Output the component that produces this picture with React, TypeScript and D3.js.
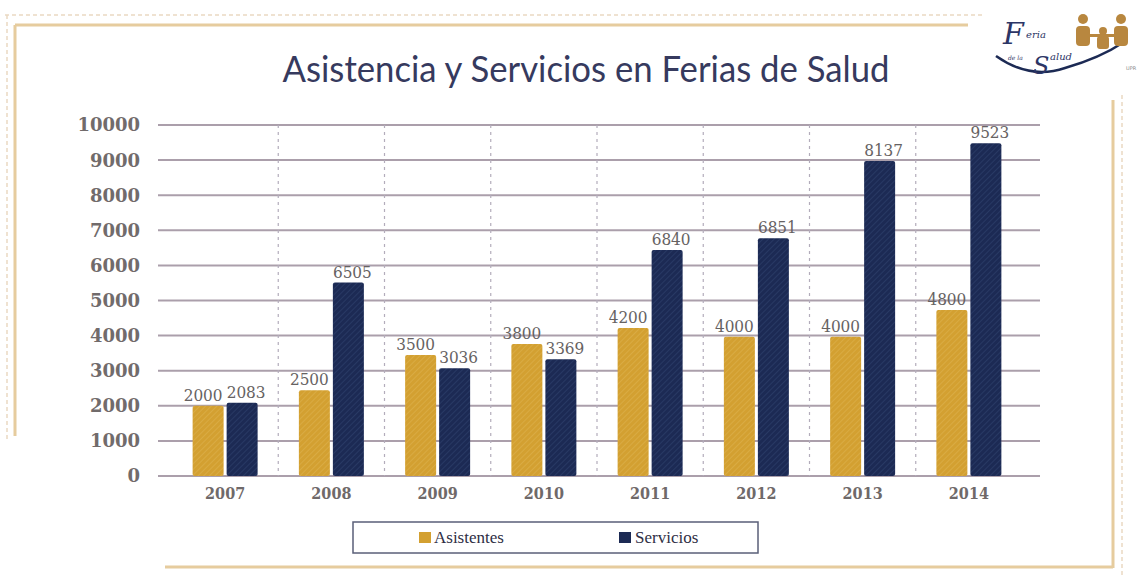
import * as d3 from "d3";

const years = ["2007", "2008", "2009", "2010", "2011", "2012", "2013", "2014"];
const seriesNames = ["Asistentes", "Servicios"];
// bar heights as drawn in the picture
const asistentes = [2000, 2440, 3450, 3760, 4220, 3970, 3970, 4730];
const servicios = [2090, 5510, 3070, 3325, 6440, 6770, 8975, 9480];
// value labels as printed above the bars
const asistentesLabels = ["2000", "2500", "3500", "3800", "4200", "4000", "4000", "4800"];
const serviciosLabels = ["2083", "6505", "3036", "3369", "6840", "6851", "8137", "9523"];
const yTicks = [0, 1000, 2000, 3000, 4000, 5000, 6000, 7000, 8000, 9000, 10000];

const W = 1140;
const H = 579;
const GOLD = "#d3a031";
const NAVY = "#1c2a54";

const App = () => {
    const x = d3.scaleBand().domain(years).range([172, 1022]).padding(0);
    const x1 = d3
        .scaleBand()
        .domain(seriesNames)
        .range([-32.5, 32.5])
        .paddingInner(3 / 34);
    const y = d3.scaleLinear().domain([0, 10000]).range([476, 125]);

    const series = [
        { name: "Asistentes", values: asistentes, labels: asistentesLabels, fill: "url(#hatchGold)", dx: -5 },
        { name: "Servicios", values: servicios, labels: serviciosLabels, fill: "url(#hatchNavy)", dx: 4 },
    ];

    const labelFont = "'DejaVu Serif Condensed', 'DejaVu Serif', serif";
    const logoFont = "'DejaVu Serif', serif";

    return (
        <svg
            width={W}
            height={H}
            style={{ position: "absolute", left: 0, top: 0, background: "#fff" }}
        >
            <defs>
                <pattern id="hatchGold" width="4" height="4" patternUnits="userSpaceOnUse" patternTransform="rotate(-45)">
                    <rect width="4" height="4" fill={GOLD} />
                    <line x1="0" y1="0" x2="4" y2="0" stroke="#dcb04a" strokeWidth="1.4" />
                </pattern>
                <pattern id="hatchNavy" width="4" height="4" patternUnits="userSpaceOnUse" patternTransform="rotate(-45)">
                    <rect width="4" height="4" fill={NAVY} />
                    <line x1="0" y1="0" x2="4" y2="0" stroke="#2d3f6b" strokeWidth="1.4" />
                </pattern>
            </defs>

            {/* decorative frame */}
            <g fill="none">
                <line x1={5} y1={15} x2={985} y2={15} stroke="#ead9c2" strokeWidth={1.5} strokeDasharray="4 3" />
                <line x1={7} y1={15} x2={7} y2={440} stroke="#ead9c2" strokeWidth={1.5} strokeDasharray="4 3" />
                <line x1={15} y1={25} x2={968} y2={25} stroke="#e6cc9e" strokeWidth={3} />
                <line x1={15} y1={25} x2={15} y2={436} stroke="#e6cc9e" strokeWidth={3} />
                <line x1={1113} y1={100} x2={1113} y2={568} stroke="#e6cc9e" strokeWidth={3} />
                <line x1={1122} y1={95} x2={1122} y2={576} stroke="#ead9c2" strokeWidth={1.5} strokeDasharray="4 3" />
                <line x1={165} y1={567} x2={1113} y2={567} stroke="#e6cc9e" strokeWidth={3} />
            </g>

            {/* logo */}
            <g fill="#2c3566" fontFamily={logoFont} fontStyle="italic">
                <path d="M996,56 Q1030,80 1065,68 Q1100,58 1124,42" fill="none" stroke={NAVY} strokeWidth={2.5} />
                <text x={1003} y={44} fontSize={30}>F</text>
                <text x={1026} y={38} fontSize={10}>eria</text>
                <text x={1008} y={60} fontSize={6}>de la</text>
                <text x={1033} y={74} fontSize={24}>S</text>
                <text x={1050} y={60} fontSize={10}>alud</text>
                <g fill="#b8873f">
                    <circle cx={1083} cy={19} r={5} />
                    <rect x={1076} y={26} width={14} height={20} rx={4} />
                    <circle cx={1103} cy={31} r={4} />
                    <rect x={1097} y={36} width={12} height={13} rx={3} />
                    <circle cx={1121} cy={19} r={5} />
                    <rect x={1114} y={26} width={14} height={20} rx={4} />
                    <rect x={1088} y={34} width={28} height={3} />
                </g>
                <text x={1126} y={70} fontFamily="'DejaVu Sans', sans-serif" fontStyle="normal" fontSize={5} fill="#888">UPR</text>
            </g>

            {/* title */}
            <text
                x={586}
                y={82}
                textAnchor="middle"
                fontFamily="Lato, 'Open Sans', sans-serif"
                fontSize={36}
                fill="#363a5e"
                textLength={607}
                lengthAdjust="spacingAndGlyphs"
            >
                Asistencia y Servicios en Ferias de Salud
            </text>

            {/* horizontal grid */}
            {yTicks.map((t) => (
                <line key={"g" + t} x1={158} x2={1040} y1={y(t)} y2={y(t)} stroke="#ab9fab" strokeWidth={2} />
            ))}
            {/* vertical separators */}
            {years.slice(1).map((yr) => (
                <line
                    key={"v" + yr}
                    x1={x(yr)}
                    x2={x(yr)}
                    y1={y(10000)}
                    y2={y(0)}
                    stroke="#b3acbb"
                    strokeWidth={1.2}
                    strokeDasharray="3 4"
                />
            ))}

            {/* y tick labels */}
            {yTicks.map((t) => (
                <text
                    key={"t" + t}
                    x={140}
                    y={y(t)}
                    dy="0.36em"
                    textAnchor="end"
                    fontFamily="'DejaVu Serif', serif"
                    fontWeight="bold"
                    fontSize={18}
                    fill="#716b6b"
                >
                    {t}
                </text>
            ))}

            {/* bars */}
            {series.map((s) => (
                <g key={s.name}>
                    {years.map((yr, i) => {
                        const bx = (x(yr) as number) + x.bandwidth() / 2 + (x1(s.name) as number);
                        const by = y(s.values[i]);
                        return (
                            <g key={yr}>
                                <rect
                                    x={bx}
                                    y={by}
                                    width={x1.bandwidth()}
                                    height={y(0) - by}
                                    rx={2}
                                    fill={s.fill}
                                />
                                <text
                                    x={bx + x1.bandwidth() / 2 + s.dx}
                                    y={by - 5}
                                    textAnchor="middle"
                                    fontFamily={labelFont}
                                    fontSize={17}
                                    fill="#666262"
                                >
                                    {s.labels[i]}
                                </text>
                            </g>
                        );
                    })}
                </g>
            ))}

            {/* x labels */}
            {years.map((yr) => (
                <text
                    key={"x" + yr}
                    x={(x(yr) as number) + x.bandwidth() / 2}
                    y={493}
                    dy="0.36em"
                    textAnchor="middle"
                    fontFamily={labelFont}
                    fontWeight="bold"
                    fontSize={16}
                    fill="#6f6969"
                >
                    {yr}
                </text>
            ))}

            {/* legend */}
            <rect x={353} y={522} width={405} height={31} fill="#fff" stroke="#5a5f78" strokeWidth={1.5} />
            <rect x={419} y={532} width={12} height={11} fill={GOLD} />
            <text x={434} y={543} fontFamily="'Liberation Serif', serif" fontSize={17} fill="#2e2e44">
                Asistentes
            </text>
            <rect x={619} y={532} width={12} height={11} fill={NAVY} />
            <text x={635} y={543} fontFamily="'Liberation Serif', serif" fontSize={17} fill="#2e2e44">
                Servicios
            </text>
        </svg>
    );
};

export default App;
